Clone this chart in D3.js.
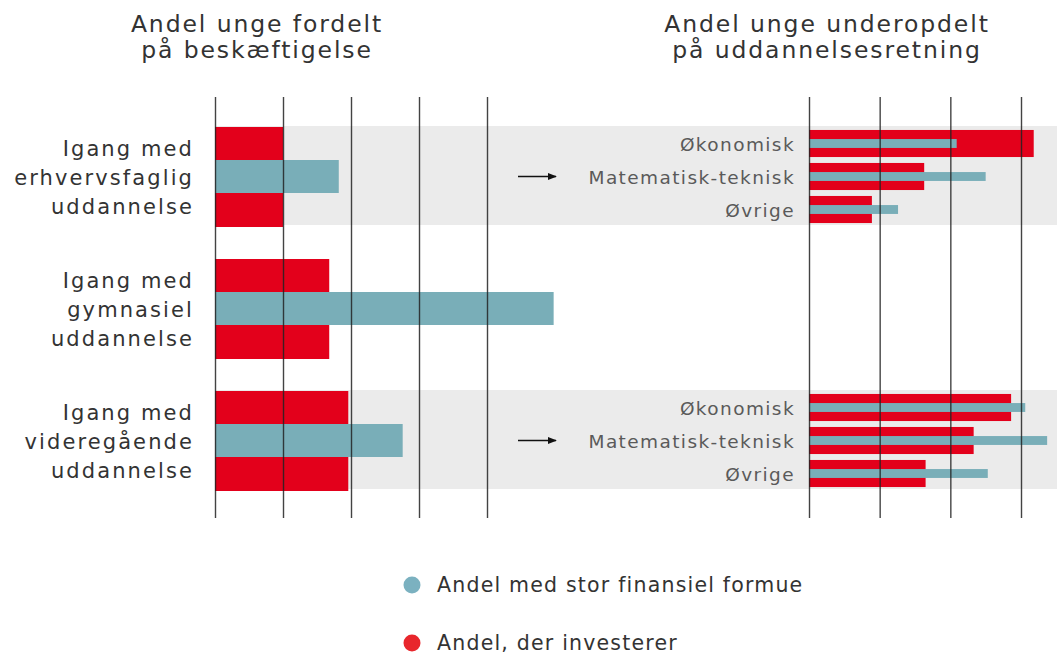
<!DOCTYPE html>
<html>
<head>
<meta charset="utf-8">
<script src="https://cdn.jsdelivr.net/npm/d3@7"></script>
<style>
  html, body { margin: 0; padding: 0; background: #fff; }
  svg { display: block; }
  text { font-family: "DejaVu Sans", "Lato", sans-serif; }
</style>
</head>
<body>
<svg id="chart" width="1057" height="658"></svg>
<script>
// ---------- DATA ----------
const groups = ["erhvervsfaglig", "gymnasiel", "videregående"];
const groupLabels = [
  ["Igang med", "erhvervsfaglig", "uddannelse"],
  ["Igang med", "gymnasiel", "uddannelse"],
  ["Igang med", "videregående", "uddannelse"]
];
const investShare = [5.0, 8.4, 9.8];      // Andel, der investerer
const wealthShare = [9.1, 24.9, 13.8];    // Andel med stor finansiel formue
const leftTicks = [0, 5, 10, 15, 20];

const subcats = ["Økonomisk", "Matematisk-teknisk", "Øvrige"];
const breakdownGroups = ["erhvervsfaglig", "videregående"];
const investErhverv = [31.8, 16.3, 8.9];
const wealthErhverv = [20.9, 25.0, 12.6];
const investVideregaaende = [28.6, 23.3, 16.5];
const wealthVideregaaende = [30.6, 33.7, 25.3];
const rightTicks = [0, 10, 20, 30];

const titleLeft = ["Andel unge fordelt", "på beskæftigelse"];
const titleRight = ["Andel unge underopdelt", "på uddannelsesretning"];
const legendLabels = ["Andel med stor finansiel formue", "Andel, der investerer"];

// ---------- STYLE ----------
const RED = "#E3001B";
const BLUE = "#79AEB8";
const BAND = "#EBEBEB";
const TEXT = "#333333";

const svg = d3.select("#chart");

// scales
const y = d3.scaleBand().domain(groups).range([126, 489]).paddingInner(0.25);
const xL = d3.scaleLinear().domain([0, 20]).range([215, 487]);
const xR = d3.scaleLinear().domain([0, 30]).range([809, 1021]);
const ySub = d3.scaleBand().domain(subcats).range([0, y.bandwidth()]);

// gray bands for groups with breakdown
svg.append("g").selectAll("rect")
  .data(breakdownGroups)
  .join("rect")
  .attr("x", xL(0))
  .attr("width", 1057 - xL(0))
  .attr("y", d => y(d))
  .attr("height", y.bandwidth())
  .attr("fill", BAND);

// left bars
const leftData = groups.map((g, i) => ({ g, invest: investShare[i], wealth: wealthShare[i] }));
const gl = svg.append("g");
gl.selectAll("rect.inv").data(leftData).join("rect")
  .attr("class", "inv")
  .attr("x", xL(0))
  .attr("y", d => y(d.g) + 1)
  .attr("width", d => xL(d.invest) - xL(0))
  .attr("height", y.bandwidth() + 1)
  .attr("fill", RED);
gl.selectAll("rect.wea").data(leftData).join("rect")
  .attr("class", "wea")
  .attr("x", xL(0))
  .attr("y", d => y(d.g) + y.bandwidth() / 3 + 1)
  .attr("width", d => xL(d.wealth) - xL(0))
  .attr("height", y.bandwidth() / 3)
  .attr("fill", BLUE);

// right bars
const rightSets = [
  { g: "erhvervsfaglig", invest: investErhverv, wealth: wealthErhverv },
  { g: "videregående", invest: investVideregaaende, wealth: wealthVideregaaende }
];
const rightData = [];
rightSets.forEach(s => subcats.forEach((c, i) => rightData.push({ g: s.g, c, invest: s.invest[i], wealth: s.wealth[i] })));
const redH = ySub.bandwidth() * 0.82;
const blueH = ySub.bandwidth() * 0.27;
const gr = svg.append("g");
gr.selectAll("rect.inv").data(rightData).join("rect")
  .attr("x", xR(0))
  .attr("y", d => y(d.g) + ySub(d.c) + (ySub.bandwidth() - redH) / 2 + 1)
  .attr("width", d => xR(d.invest) - xR(0))
  .attr("height", redH)
  .attr("fill", RED);
gr.selectAll("rect.wea").data(rightData).join("rect")
  .attr("x", xR(0))
  .attr("y", d => y(d.g) + ySub(d.c) + (ySub.bandwidth() - blueH) / 2 + 1)
  .attr("width", d => xR(d.wealth) - xR(0))
  .attr("height", blueH)
  .attr("fill", BLUE);

// gridlines via axes (no labels)
const gridTop = 97, gridBottom = 518;
const axL = d3.axisTop(xL).tickValues(leftTicks).tickSize(-(gridBottom - gridTop)).tickFormat("");
const axR = d3.axisTop(xR).tickValues(rightTicks).tickSize(-(gridBottom - gridTop)).tickFormat("");
[axL, axR].forEach(ax => {
  const g = svg.append("g").attr("transform", `translate(0,${gridTop})`).call(ax);
  g.select(".domain").remove();
  g.selectAll(".tick line").attr("stroke", "#222").attr("stroke-width", 1.4).attr("stroke-opacity", 0.85);
});

// left category labels
const lbl = svg.append("g");
groups.forEach((g, i) => {
  const cy = y(g) + y.bandwidth() / 2;
  const t = lbl.append("text")
    .attr("text-anchor", "end")
    .attr("fill", TEXT)
    .attr("font-size", 21)
    .attr("letter-spacing", 2.1);
  groupLabels[i].forEach((line, k) => {
    t.append("tspan").attr("x", 194).attr("y", cy + (k - 1) * 29 + 9).text(line);
  });
});

// right sub labels and arrows
rightData.forEach(d => {
  svg.append("text")
    .attr("x", 795)
    .attr("y", y(d.g) + ySub(d.c) + ySub.bandwidth() / 2 + 8)
    .attr("text-anchor", "end")
    .attr("fill", "#5a5a5a")
    .attr("font-size", 18.5)
    .attr("letter-spacing", 1.4)
    .text(d.c);
});
svg.append("defs").append("marker")
  .attr("id", "arrow").attr("viewBox", "0 0 10 10")
  .attr("refX", 9).attr("refY", 5)
  .attr("markerWidth", 9).attr("markerHeight", 9)
  .attr("markerUnits", "userSpaceOnUse")
  .attr("orient", "auto")
  .append("path").attr("d", "M0,1 L10,5 L0,9 Z").attr("fill", "#111");
breakdownGroups.forEach(g => {
  const yy = y(g) + ySub("Matematisk-teknisk") + ySub.bandwidth() / 2 + 1;
  svg.append("line")
    .attr("x1", 518).attr("x2", 556)
    .attr("y1", yy).attr("y2", yy)
    .attr("stroke", "#111").attr("stroke-width", 1.4)
    .attr("marker-end", "url(#arrow)");
});

// titles
function title(lines, cx) {
  const t = svg.append("text").attr("text-anchor", "middle").attr("fill", TEXT)
    .attr("font-size", 23.5).attr("letter-spacing", 1.9);
  lines.forEach((l, k) => t.append("tspan").attr("x", cx).attr("y", 32 + k * 26).text(l));
}
title(titleLeft, 257);
title(titleRight, 827);

// legend
const legY = [585, 643];
const leg = svg.append("g");
legendLabels.forEach((l, i) => {
  leg.append("circle").attr("cx", 412).attr("cy", legY[i]).attr("r", 8.5)
    .attr("fill", i === 0 ? "#7BB1C0" : "#E8262C");
  leg.append("text").attr("x", 437).attr("y", legY[i] + 7)
    .attr("fill", TEXT).attr("font-size", 20.5).attr("letter-spacing", 1.2).text(l);
});
</script>
</body>
</html>
